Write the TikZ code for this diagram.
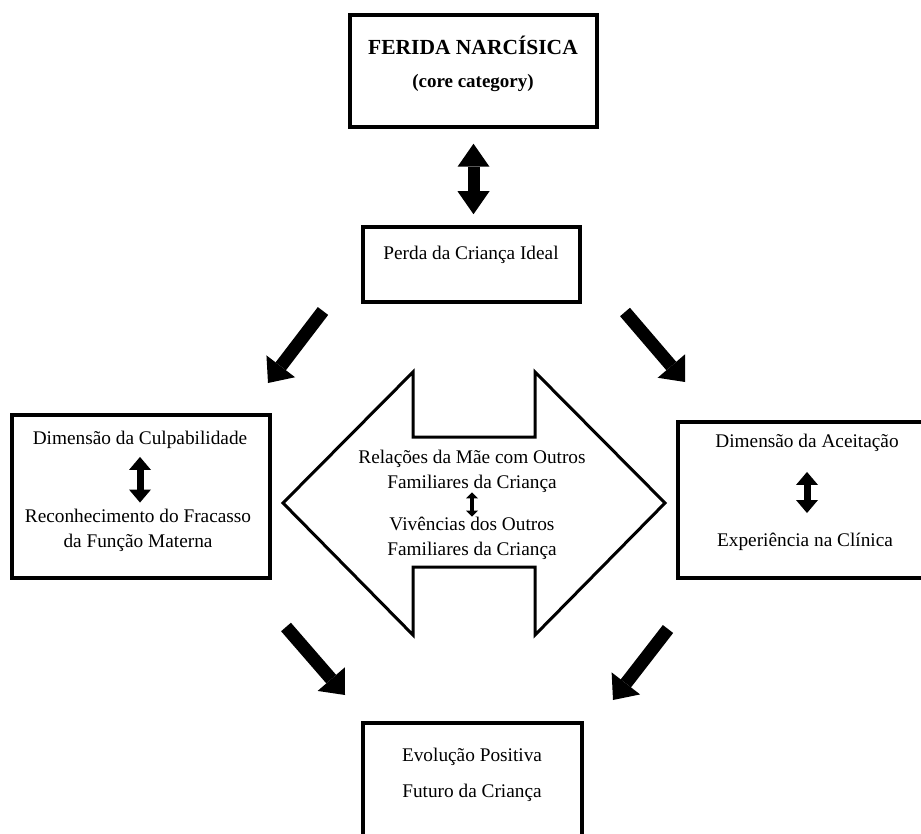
\documentclass[tikz,border=0pt]{standalone}
\usepackage{fontspec}
\setmainfont{Liberation Serif}
\usetikzlibrary{arrows.meta}
\newcommand{\txt}{\fontsize{19.3}{25}\selectfont}

\begin{document}
\begin{tikzpicture}[x=1pt, y=-1pt, line join=miter,
  box/.style={draw, line width=3.5pt, inner sep=0pt},
  lbl/.style={font=\txt, inner sep=0pt},
  fat/.style={line width=13pt, -{Triangle[width=36pt, length=21pt, line width=0pt]}},
  twin/.style={line width=12pt, {Triangle[width=32pt, length=23pt, line width=0pt]}-{Triangle[width=32pt, length=23pt, line width=0pt]}},
  small/.style={line width=7pt, {Triangle[width=22pt, length=13pt, line width=0pt]}-{Triangle[width=22pt, length=13pt, line width=0pt]}},
  tiny/.style={line width=4.5pt, {Triangle[width=12pt, length=6pt, line width=0pt]}-{Triangle[width=12pt, length=6pt, line width=0pt]}}]
  \useasboundingbox (0,0) rectangle (921,834);

  % boxes
  \node[box, minimum width=247pt, minimum height=112pt] (ferida) at (473.5,71) {};
  \node[box, minimum width=217pt, minimum height=75pt] (perda) at (471.5,264.5) {};
  \node[box, minimum width=258pt, minimum height=163pt] (culpa) at (141,496.5) {};
  \node[box, minimum width=257pt, minimum height=156pt] (aceita) at (806.5,500) {};
  \node[box, minimum width=219pt, minimum height=127pt] (evol) at (472.5,786.5) {};

  % texts
  \node[lbl, font=\fontsize{21.5}{25}\selectfont\bfseries] (tFerida) at (473,45) {FERIDA NARCÍSICA};
  \node[lbl, font=\fontsize{19}{25}\selectfont\bfseries] (tCore) at (473,83) {(core category)};
  \node[lbl] (tPerda) at (471,255) {Perda da Criança Ideal};
  \node[lbl] (tCulpa) at (140,440) {Dimensão da Culpabilidade};
  \node[lbl, align=center] (tFracasso) at (138,530) {Reconhecimento do Fracasso\\da Função Materna};
  \node[lbl, align=center] (tRelacoes) at (472,471) {Relações da Mãe com Outros\\Familiares da Criança};
  \node[lbl, align=center] (tVivencias) at (472,538) {Vivências dos Outros\\Familiares da Criança};
  \node[lbl] (tAceita) at (807,443) {Dimensão da Aceitação};
  \node[lbl] (tClinica) at (805,542) {Experiência na Clínica};
  \node[lbl] (tEvol) at (472,757) {Evolução Positiva};
  \node[lbl] (tFuturo) at (472,793) {Futuro da Criança};

  % central double arrow
  \draw[line width=3pt] (283,503) -- (413,372) -- (413,437) -- (535,437) -- (535,372)
    -- (665,503) -- (535,635) -- (535,567) -- (413,567) -- (413,635) -- cycle;

  % arrows
  \coordinate (a1) at (323,311); \coordinate (b1) at (268,383);
  \coordinate (a2) at (625,312); \coordinate (b2) at (685,382);
  \coordinate (a3) at (286,627); \coordinate (b3) at (345,695);
  \coordinate (a4) at (668,629); \coordinate (b4) at (613,700);
  \foreach \i in {1,...,4} { \draw[fat] (a\i) -- (b\i); }

  \coordinate (c1) at ([yshift=-15pt]ferida.south);
  \coordinate (c2) at ([yshift=11pt]ferida.south |- perda.north);
  \draw[twin] (c1) -- (c2);
  \draw[small] ([yshift=-8pt]tCulpa.south) -- ([yshift=6pt]tCulpa.south |- tFracasso.north);
  \draw[small] ([yshift=-20pt]tAceita.south) -- ([yshift=20pt]tAceita.south |- tClinica.north);
  \draw[tiny] (tRelacoes.south) -- (tVivencias.north);
\end{tikzpicture}
\end{document}
